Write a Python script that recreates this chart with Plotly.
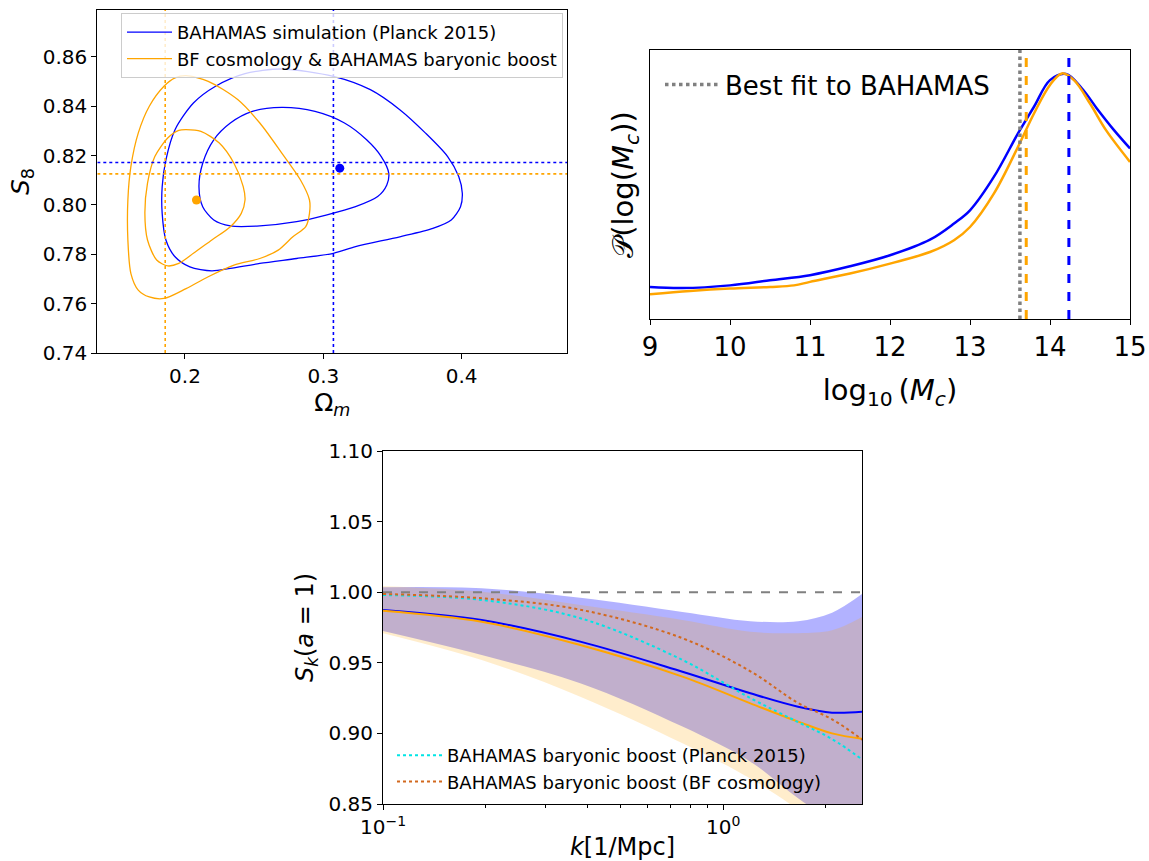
import numpy as np
import plotly.graph_objects as go

W, H = 1149, 861
FONT = "DejaVu Sans"

# ---------------- Omega_m - S8 constraints ----------------
om_range = [0.1366, 0.4764]
s8_range = [0.74, 0.879]

blue_outer_om = [0.270, 0.3073, 0.334, 0.3553, 0.3739, 0.3899, 0.3979, 0.4005, 0.3992, 0.3925,
                 0.3792, 0.3553, 0.3233, 0.3073, 0.2807, 0.2541, 0.2328, 0.2194, 0.2035, 0.1928,
                 0.1862, 0.1835, 0.1835, 0.1862, 0.1928, 0.2061, 0.2221, 0.2434]
blue_outer_s8 = [0.8551, 0.8521, 0.8467, 0.8386, 0.8291, 0.8196, 0.8115, 0.8047, 0.7993, 0.7939,
                 0.7905, 0.7871, 0.7831, 0.7804, 0.7783, 0.7763, 0.7743, 0.7733, 0.7749, 0.7790,
                 0.7858, 0.7966, 0.8074, 0.8183, 0.8305, 0.8413, 0.8481, 0.8532]

blue_inner_om = [0.270, 0.294, 0.3153, 0.3313, 0.3419, 0.3473, 0.3459, 0.3393, 0.3233, 0.302,
                 0.2807, 0.2541, 0.2328, 0.2208, 0.2128, 0.2101, 0.2128, 0.2208, 0.2328, 0.2487]
blue_inner_s8 = [0.8395, 0.8379, 0.8332, 0.8264, 0.8196, 0.8129, 0.8081, 0.8034, 0.7993, 0.7959,
                 0.7932, 0.7915, 0.7915, 0.7939, 0.7993, 0.8074, 0.8169, 0.8264, 0.8332, 0.8379]

orange_outer_om = [0.2008, 0.2168, 0.2381, 0.2541, 0.2700, 0.2834, 0.2900, 0.2900, 0.2873, 0.2780,
                   0.2674, 0.2541, 0.2354, 0.2168, 0.2008, 0.1848, 0.1742, 0.1662, 0.1609, 0.1587,
                   0.1587, 0.1609, 0.1662, 0.1742, 0.1848, 0.1928]
orange_outer_s8 = [0.8524, 0.8501, 0.8427, 0.8332, 0.8210, 0.8102, 0.8020, 0.7966, 0.7912, 0.7871,
                   0.7817, 0.7783, 0.7756, 0.7709, 0.7661, 0.7621, 0.7627, 0.7655, 0.7722, 0.7858,
                   0.8020, 0.8156, 0.8291, 0.8400, 0.8481, 0.8515]

orange_inner_om = [0.2008, 0.2115, 0.2248, 0.2354, 0.2421, 0.2434, 0.2407, 0.2328, 0.2194, 0.2061,
                   0.1955, 0.1875, 0.1795, 0.1729, 0.1710, 0.1729, 0.1782, 0.1875, 0.1955]
orange_inner_s8 = [0.8305, 0.8298, 0.8251, 0.8169, 0.8074, 0.8020, 0.7966, 0.7912, 0.7858, 0.7804,
                   0.7763, 0.7753, 0.7777, 0.7858, 0.7966, 0.8088, 0.8196, 0.8271, 0.8302]

best_blue = (0.3119, 0.8149)
best_orange = (0.2083, 0.8020)
truth_blue = (0.3073, 0.8172)
truth_orange = (0.1857, 0.8126)

# ---------------- log10(Mc) posterior ----------------
logmc_blue = [9.0, 9.4, 10.0, 10.5, 11.0, 11.5, 12.0, 12.5, 12.8, 13.0, 13.3, 13.6, 13.8,
              14.0, 14.2, 14.4, 14.6, 14.8, 15.0]
pdf_blue = [0.119, 0.115, 0.125, 0.144, 0.163, 0.196, 0.237, 0.295, 0.355, 0.404, 0.529, 0.690,
            0.789, 0.888, 0.911, 0.857, 0.777, 0.702, 0.634]
logmc_orange = [9.0, 9.5, 10.0, 10.5, 10.8, 11.0, 11.5, 12.0, 12.5, 12.8, 13.0, 13.3, 13.6,
                13.8, 14.0, 14.15, 14.3, 14.5, 14.7, 15.0]
pdf_orange = [0.092, 0.104, 0.113, 0.119, 0.125, 0.138, 0.169, 0.206, 0.249, 0.293, 0.342, 0.467,
              0.640, 0.764, 0.870, 0.913, 0.888, 0.801, 0.702, 0.584]
mc_bestfit = 13.624
mc_orange = 13.703
mc_blue = 14.236

# ---------------- baryonic suppression S_k ----------------
k_vals = [0.100, 0.195, 0.380, 0.759, 1.202, 1.660, 2.089, 2.570]
sk_blue = [0.9874, 0.9803, 0.9650, 0.9437, 0.9284, 0.9189, 0.9147, 0.9154]
sk_blue_hi = [1.0035, 1.0028, 0.9960, 0.9860, 0.9795, 0.9795, 0.9855, 0.9990]
sk_blue_lo = [0.9725, 0.9555, 0.9355, 0.9048, 0.8800, 0.8540, 0.8380, 0.8230]
sk_orange = [0.9869, 0.9791, 0.9626, 0.9402, 0.9213, 0.9083, 0.9000, 0.8961]
sk_orange_hi = [1.0043, 1.0004, 0.9909, 0.9803, 0.9720, 0.9710, 0.9730, 0.9827]
sk_orange_lo = [0.9710, 0.9520, 0.9260, 0.8930, 0.8680, 0.8460, 0.8290, 0.8120]
sk_bahamas_planck = [0.9980, 0.9945, 0.9816, 0.9520, 0.9250, 0.9080, 0.8960, 0.8812]
sk_bahamas_bf = [0.9987, 0.9957, 0.9876, 0.9674, 0.9440, 0.9215, 0.9100, 0.8954]

BLUE = "#0000ff"
ORANGE = "#ffa500"


def closed(a):
    return list(a) + [a[0]]


def px_dom(a, b, size, flip=False):
    if flip:
        return [1 - b / size, 1 - a / size]
    return [a / size, b / size]


fig = go.Figure()

# contours
for xs, ys, col, name, show in [
    (blue_outer_om, blue_outer_s8, BLUE, "BAHAMAS simulation (Planck 2015)", True),
    (blue_inner_om, blue_inner_s8, BLUE, None, False),
    (orange_outer_om, orange_outer_s8, ORANGE, "BF cosmology & BAHAMAS baryonic boost", True),
    (orange_inner_om, orange_inner_s8, ORANGE, None, False),
]:
    fig.add_trace(go.Scatter(x=closed(xs), y=closed(ys), mode="lines",
                             line=dict(color=col, width=1.3, shape="spline", smoothing=0.8),
                             name=name, showlegend=show, legend="legend",
                             xaxis="x", yaxis="y"))

for (xv, yv), col in [(truth_blue, BLUE), (truth_orange, ORANGE)]:
    fig.add_trace(go.Scatter(x=[xv, xv], y=s8_range, mode="lines",
                             line=dict(color=col, width=1.6, dash="dot"),
                             showlegend=False, xaxis="x", yaxis="y"))
    fig.add_trace(go.Scatter(x=om_range, y=[yv, yv], mode="lines",
                             line=dict(color=col, width=1.6, dash="dot"),
                             showlegend=False, xaxis="x", yaxis="y"))

for (xv, yv), col in [(best_blue, BLUE), (best_orange, ORANGE)]:
    fig.add_trace(go.Scatter(x=[xv], y=[yv], mode="markers",
                             marker=dict(color=col, size=9),
                             showlegend=False, xaxis="x", yaxis="y"))

# posterior of log10(Mc)
fig.add_trace(go.Scatter(x=logmc_blue, y=pdf_blue, mode="lines",
                         line=dict(color=BLUE, width=2.5, shape="spline"),
                         showlegend=False, xaxis="x2", yaxis="y2"))
fig.add_trace(go.Scatter(x=logmc_orange, y=pdf_orange, mode="lines",
                         line=dict(color=ORANGE, width=2.5, shape="spline"),
                         showlegend=False, xaxis="x2", yaxis="y2"))
fig.add_trace(go.Scatter(x=[mc_bestfit, mc_bestfit], y=[0, 1], mode="lines",
                         line=dict(color="gray", width=3.5, dash="dot"),
                         name="Best fit to BAHAMAS", legend="legend2",
                         xaxis="x2", yaxis="y2"))
fig.add_trace(go.Scatter(x=[mc_orange, mc_orange], y=[0, 1], mode="lines",
                         line=dict(color=ORANGE, width=3, dash="dash"),
                         showlegend=False, xaxis="x2", yaxis="y2"))
fig.add_trace(go.Scatter(x=[mc_blue, mc_blue], y=[0, 1], mode="lines",
                         line=dict(color=BLUE, width=3, dash="dash"),
                         showlegend=False, xaxis="x2", yaxis="y2"))

# S_k bands and curves
fig.add_trace(go.Scatter(x=k_vals, y=sk_blue_hi, mode="lines", line=dict(width=0, shape="spline"),
                         showlegend=False, hoverinfo="skip", xaxis="x3", yaxis="y3"))
fig.add_trace(go.Scatter(x=k_vals, y=sk_blue_lo, mode="lines", line=dict(width=0, shape="spline"),
                         fill="tonexty", fillcolor="rgba(0,0,255,0.3)",
                         showlegend=False, hoverinfo="skip", xaxis="x3", yaxis="y3"))
fig.add_trace(go.Scatter(x=k_vals, y=sk_orange_hi, mode="lines", line=dict(width=0, shape="spline"),
                         showlegend=False, hoverinfo="skip", xaxis="x3", yaxis="y3"))
fig.add_trace(go.Scatter(x=k_vals, y=sk_orange_lo, mode="lines", line=dict(width=0, shape="spline"),
                         fill="tonexty", fillcolor="rgba(255,165,0,0.2)",
                         showlegend=False, hoverinfo="skip", xaxis="x3", yaxis="y3"))
fig.add_trace(go.Scatter(x=[0.1, 2.6], y=[1.0, 1.0], mode="lines",
                         line=dict(color="gray", width=2, dash="dash"),
                         showlegend=False, xaxis="x3", yaxis="y3"))
fig.add_trace(go.Scatter(x=k_vals, y=sk_blue, mode="lines",
                         line=dict(color=BLUE, width=2, shape="spline"),
                         showlegend=False, xaxis="x3", yaxis="y3"))
fig.add_trace(go.Scatter(x=k_vals, y=sk_orange, mode="lines",
                         line=dict(color=ORANGE, width=2, shape="spline"),
                         showlegend=False, xaxis="x3", yaxis="y3"))
fig.add_trace(go.Scatter(x=k_vals, y=sk_bahamas_planck, mode="lines",
                         line=dict(color="#00e5e5", width=2, dash="dot", shape="spline"),
                         name="BAHAMAS baryonic boost (Planck 2015)", legend="legend3",
                         xaxis="x3", yaxis="y3"))
fig.add_trace(go.Scatter(x=k_vals, y=sk_bahamas_bf, mode="lines",
                         line=dict(color="#d2691e", width=2, dash="dot", shape="spline"),
                         name="BAHAMAS baryonic boost (BF cosmology)", legend="legend3",
                         xaxis="x3", yaxis="y3"))

axis_common = dict(showline=True, linecolor="black", linewidth=1, mirror=True,
                   ticks="outside", ticklen=5, tickwidth=1, tickcolor="black",
                   showgrid=False, zeroline=False, automargin=False,
                   tickfont=dict(family=FONT, size=20, color="black"))

minor_k = [0.2, 0.3, 0.4, 0.5, 0.6, 0.7, 0.8, 0.9, 2.0]

fig.update_layout(
    width=W, height=H,
    margin=dict(l=0, r=0, t=0, b=0),
    paper_bgcolor="white", plot_bgcolor="white",
    font=dict(family=FONT, color="black"),
    xaxis=dict(axis_common, domain=px_dom(97.3, 567.3, W), range=om_range, anchor="y",
               tickvals=[0.2, 0.3, 0.4], ticktext=["0.2", "0.3", "0.4"],
               title=dict(text="Ω<sub><i>m</i></sub>", font=dict(size=25), standoff=2)),
    yaxis=dict(axis_common, domain=px_dom(10, 353, H, flip=True), range=s8_range, anchor="x",
               tickvals=[0.74, 0.76, 0.78, 0.80, 0.82, 0.84, 0.86],
               ticktext=["0.74", "0.76", "0.78", "0.80", "0.82", "0.84", "0.86"],
               title=dict(text="<i>S</i><sub>8</sub>", font=dict(size=25), standoff=6)),
    xaxis2=dict(axis_common, domain=px_dom(650, 1130, W), range=[9, 15], anchor="y2",
                tickvals=[9, 10, 11, 12, 13, 14, 15],
                tickfont=dict(family=FONT, size=26, color="black"),
                title=dict(text="log<sub>10</sub>\u2009(<i>M<sub>c</sub></i>)", font=dict(size=29),
                           standoff=18)),
    yaxis2=dict(axis_common, domain=px_dom(50, 319, H, flip=True), range=[0, 1], anchor="x2",
                ticks="", showticklabels=False,
                title=dict(text="𝒫(log(<i>M<sub>c</sub></i>))", font=dict(size=29), standoff=6)),
    xaxis3=dict(axis_common, domain=px_dom(383, 862, W), type="log", range=[-1, 0.408],
                anchor="y3", tickvals=[0.1, 1], ticktext=["10<sup>−1</sup>", "10<sup>0</sup>"],
                minor=dict(tickvals=minor_k, ticks="outside", ticklen=3, tickcolor="black",
                           showgrid=False),
                title=dict(text="<i>k</i>[1/Mpc]", font=dict(size=24), standoff=4)),
    yaxis3=dict(axis_common, domain=px_dom(451, 804, H, flip=True), range=[0.85, 1.10],
                anchor="x3", tickvals=[0.85, 0.90, 0.95, 1.00, 1.05, 1.10],
                ticktext=["0.85", "0.90", "0.95", "1.00", "1.05", "1.10"],
                title=dict(text="<i>S<sub>k</sub></i>(<i>a</i> = 1)", font=dict(size=24),
                           standoff=8)),
    legend=dict(x=121 / W, y=1 - 13 / H, xanchor="left", yanchor="top",
                traceorder="normal", itemwidth=45,
                bgcolor="rgba(255,255,255,0.8)", bordercolor="#cccccc", borderwidth=1,
                font=dict(family=FONT, size=18, color="black"), tracegroupgap=0),
    legend2=dict(x=660 / W, y=1 - 61 / H, xanchor="left", yanchor="top",
                 traceorder="normal", itemwidth=55,
                 bgcolor="rgba(0,0,0,0)", borderwidth=0,
                 font=dict(family=FONT, size=26, color="black")),
    legend3=dict(x=392 / W, y=1 - 800 / H, xanchor="left", yanchor="bottom",
                 traceorder="normal", itemwidth=45,
                 bgcolor="rgba(0,0,0,0)", borderwidth=0,
                 font=dict(family=FONT, size=18, color="black")),
)

fig.write_html("out.html")
